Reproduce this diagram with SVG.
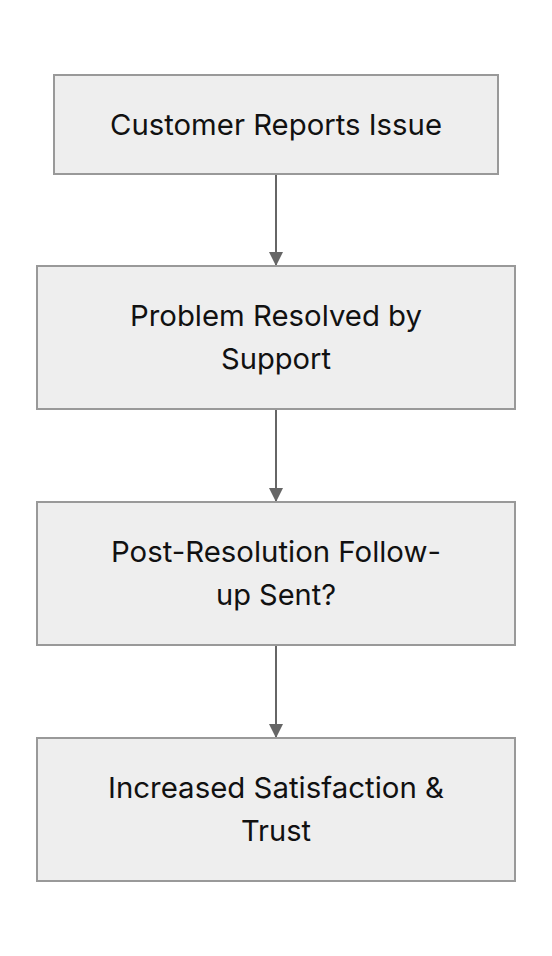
<svg xmlns="http://www.w3.org/2000/svg" width="552" height="956" viewBox="0 0 552 956">
<style>
.box{fill:#eeeeee;stroke:#999999;stroke-width:2}
.lbl{font-family:Inter,"Liberation Sans",sans-serif;font-size:29px;fill:#111111;text-anchor:middle}
.edge{stroke:#666666;stroke-width:2;fill:none}
</style>
<defs>
<marker id="ah" viewBox="0 0 14 14" refX="14" refY="7" markerWidth="14" markerHeight="14" markerUnits="userSpaceOnUse" orient="auto">
<path d="M0,0 L14,7 L0,14 z" fill="#666666"/>
</marker>
</defs>
<rect width="552" height="956" fill="#ffffff"/>
<g id="connectors">
<line class="edge" x1="276" y1="175" x2="276" y2="266" marker-end="url(#ah)"/>
<line class="edge" x1="276" y1="410" x2="276" y2="502" marker-end="url(#ah)"/>
<line class="edge" x1="276" y1="646" x2="276" y2="738" marker-end="url(#ah)"/>
</g>
<g id="n1">
<rect class="box" x="54" y="75" width="444" height="99"/>
<text class="lbl" x="276" y="135" textLength="332" lengthAdjust="spacingAndGlyphs">Customer Reports Issue</text>
</g>
<g id="n2">
<rect class="box" x="37" y="266" width="478" height="143"/>
<text class="lbl" x="276" y="326" textLength="292" lengthAdjust="spacingAndGlyphs">Problem Resolved by</text>
<text class="lbl" x="276" y="369" textLength="110" lengthAdjust="spacingAndGlyphs">Support</text>
</g>
<g id="n3">
<rect class="box" x="37" y="502" width="478" height="143"/>
<text class="lbl" x="276" y="562" textLength="330" lengthAdjust="spacingAndGlyphs">Post-Resolution Follow-</text>
<text class="lbl" x="276" y="605" textLength="120" lengthAdjust="spacingAndGlyphs">up Sent?</text>
</g>
<g id="n4">
<rect class="box" x="37" y="738" width="478" height="143"/>
<text class="lbl" x="276" y="798" textLength="336" lengthAdjust="spacingAndGlyphs">Increased Satisfaction &amp;</text>
<text class="lbl" x="276" y="841" textLength="70" lengthAdjust="spacingAndGlyphs">Trust</text>
</g>
</svg>
